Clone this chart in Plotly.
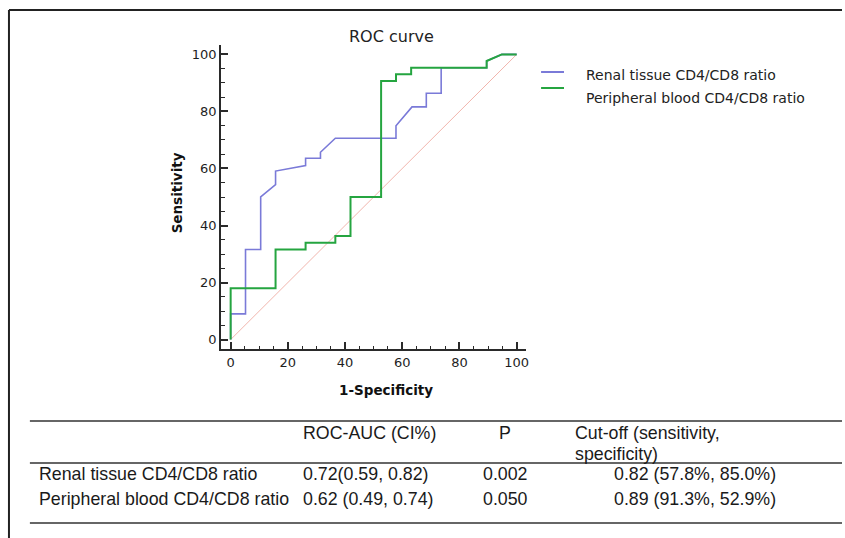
import plotly.graph_objects as go

# ---------------- data ----------------
renal_fpr = [0, 0, 5.2, 5.2, 10.5, 10.5, 15.7, 15.7, 26.2, 26.2, 31.4, 31.4, 36.6,
             57.8, 57.8, 63.4, 68.4, 68.4, 73.6, 73.6, 89.5, 89.5, 94.8, 100]
renal_sens = [0, 9, 9, 31.6, 31.6, 50, 54.3, 59.1, 61, 63.6, 63.6, 65.7, 70.6,
              70.6, 75, 81.6, 81.6, 86.4, 86.4, 95.3, 95.3, 97.7, 100, 100]

blood_fpr = [0, 0, 15.7, 15.7, 26.2, 26.2, 36.6, 36.6, 41.9, 41.9, 52.6, 52.6,
             57.8, 57.8, 63.1, 63.1, 89.5, 89.5, 94.8, 100]
blood_sens = [0, 18, 18, 31.6, 31.6, 34, 34, 36.3, 36.3, 50, 50, 90.7,
              90.7, 93, 93, 95.3, 95.3, 97.7, 100, 100]

ref_line = [0, 100]

series_names = ["Renal tissue CD4/CD8 ratio", "Peripheral blood CD4/CD8 ratio"]
x_ticks = [0, 20, 40, 60, 80, 100]
y_ticks = [0, 20, 40, 60, 80, 100]

table_header = ["ROC-AUC (CI%)", "P", "Cut-off (sensitivity,", "specificity)"]
table_rows = ["Renal tissue CD4/CD8 ratio", "Peripheral blood CD4/CD8 ratio"]
table_auc = ["0.72(0.59, 0.82)", "0.62 (0.49, 0.74)"]
table_p = ["0.002", "0.050"]
table_cutoff = ["0.82 (57.8%, 85.0%)", "0.89 (91.3%, 52.9%)"]

# ---------------- styling ----------------
W, H = 845, 538
BLUE = "#7a7ad8"
GREEN = "#25a540"
DIAG = "#f1b5ad"
AX = "#2a2a2a"
CHART_FONT = "DejaVu Sans"
TABLE_FONT = "Liberation Sans"


def px(x):
    return x / W


def py(y):
    return 1 - y / H


fig = go.Figure()
fig.add_trace(go.Scatter(x=ref_line, y=ref_line, mode="lines",
                         line=dict(color=DIAG, width=1), hoverinfo="skip", showlegend=False))
fig.add_trace(go.Scatter(x=renal_fpr, y=renal_sens, mode="lines", name=series_names[0],
                         line=dict(color=BLUE, width=1.6), showlegend=False))
fig.add_trace(go.Scatter(x=blood_fpr, y=blood_sens, mode="lines", name=series_names[1],
                         line=dict(color=GREEN, width=2), showlegend=False))

axis_common = dict(
    showline=True, linecolor=AX, linewidth=2,
    ticks="inside", ticklen=7, tickwidth=1.5, tickcolor=AX,
    minor=dict(dtick=5, tick0=0, ticks="inside", ticklen=3.5, tickwidth=1, tickcolor=AX),
    showgrid=False, zeroline=False,
    range=[-3.3, 103.3],
    tickfont=dict(family=CHART_FONT, size=13, color="#1e1e1e"),
)

fig.update_layout(
    width=W, height=H,
    margin=dict(l=0, r=0, t=0, b=0, pad=0),
    paper_bgcolor="white", plot_bgcolor="white",
    xaxis=dict(domain=[px(222), px(528)], tickvals=x_ticks, **axis_common),
    yaxis=dict(domain=[py(349), py(45)], tickvals=y_ticks, **axis_common),
)

ann = []
# title
ann.append(dict(text="ROC curve", x=px(393), y=py(36.5), xref="paper", yref="paper",
                showarrow=False, xanchor="center", yanchor="middle",
                font=dict(family=CHART_FONT, size=16, color="#222")))
# axis titles
ann.append(dict(text="<b>1-Specificity</b>", x=px(387), y=py(390), xref="paper", yref="paper",
                showarrow=False, xanchor="center", yanchor="middle",
                font=dict(family=CHART_FONT, size=13.5, color="#111")))
ann.append(dict(text="<b>Sensitivity</b>", x=px(178), y=py(193), xref="paper", yref="paper",
                showarrow=False, xanchor="center", yanchor="middle", textangle=-90,
                font=dict(family=CHART_FONT, size=13.5, color="#111")))
# legend texts
for name, yy in zip(series_names, [75, 98]):
    ann.append(dict(text=name, x=px(586), y=py(yy), xref="paper", yref="paper",
                    showarrow=False, xanchor="left", yanchor="middle",
                    font=dict(family=CHART_FONT, size=14, color="#222")))

# table
tf = dict(family=TABLE_FONT, size=17.8, color="#1a1a1a")
ann.append(dict(text=table_header[0], x=px(302), y=py(433), xref="paper", yref="paper",
                showarrow=False, xanchor="left", yanchor="middle", font=tf))
ann.append(dict(text=table_header[1], x=px(507), y=py(433), xref="paper", yref="paper",
                showarrow=False, xanchor="center", yanchor="middle", font=tf))
ann.append(dict(text=table_header[2], x=px(575), y=py(433), xref="paper", yref="paper",
                showarrow=False, xanchor="left", yanchor="middle", font=tf))
ann.append(dict(text=table_header[3], x=px(575), y=py(454), xref="paper", yref="paper",
                showarrow=False, xanchor="left", yanchor="middle", font=tf))
for i, yy in enumerate([474, 499]):
    ann.append(dict(text=table_rows[i], x=px(37), y=py(yy), xref="paper", yref="paper",
                    showarrow=False, xanchor="left", yanchor="middle", font=tf))
    ann.append(dict(text=table_auc[i], x=px(302), y=py(yy), xref="paper", yref="paper",
                    showarrow=False, xanchor="left", yanchor="middle", font=tf))
    ann.append(dict(text=table_p[i], x=px(507), y=py(yy), xref="paper", yref="paper",
                    showarrow=False, xanchor="center", yanchor="middle", font=tf))
    ann.append(dict(text=table_cutoff[i], x=px(781), y=py(yy), xref="paper", yref="paper",
                    showarrow=False, xanchor="right", yanchor="middle", font=tf))

shapes = []
# legend samples
for col, yy in zip([BLUE, GREEN], [72, 88]):
    shapes.append(dict(type="line", xref="paper", yref="paper", x0=px(543), x1=px(566),
                       y0=py(yy), y1=py(yy), line=dict(color=col, width=2)))
# frame
shapes.append(dict(type="line", xref="paper", yref="paper", x0=px(9), x1=1,
                   y0=py(10), y1=py(10), line=dict(color="#222", width=2)))
shapes.append(dict(type="line", xref="paper", yref="paper", x0=px(9), x1=px(9),
                   y0=py(10), y1=0, line=dict(color="#222", width=2)))
# table rules
for yy in [421, 463, 523]:
    shapes.append(dict(type="line", xref="paper", yref="paper", x0=px(30), x1=1,
                       y0=py(yy), y1=py(yy), line=dict(color="#666", width=2)))

fig.update_layout(annotations=ann, shapes=shapes)
fig.write_html("out.html", config={"displayModeBar": False},
               post_script="document.body.style.margin='0';")
